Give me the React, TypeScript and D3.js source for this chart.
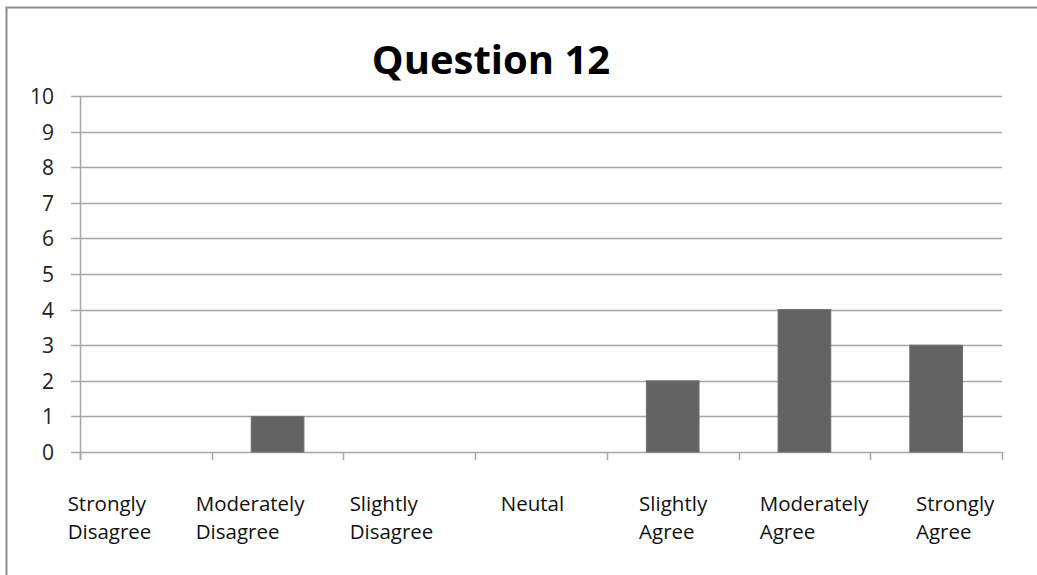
import React, { useEffect, useRef } from "react";
import * as d3 from "d3";

const categories: string[][] = [
  ["Strongly", "Disagree"],
  ["Moderately", "Disagree"],
  ["Slightly", "Disagree"],
  ["Neutal"],
  ["Slightly", "Agree"],
  ["Moderately", "Agree"],
  ["Strongly", "Agree"],
];
const values: number[] = [0, 1, 0, 0, 2, 4, 3];
const yTicks: number[] = [0, 1, 2, 3, 4, 5, 6, 7, 8, 9, 10];
const title = "Question 12";

const W = 1037;
const H = 575;
const FONT = "'Open Sans', 'DejaVu Sans', sans-serif";

export default function App() {
  const ref = useRef<SVGSVGElement | null>(null);

  useEffect(() => {
    const svg = d3.select(ref.current);
    svg.selectAll("*").remove();

    const left = 80;
    const right = 1002;
    const top = 96;
    const bottom = 452;

    const x = d3
      .scaleBand<number>()
      .domain(categories.map((_, i) => i))
      .range([left, right])
      .paddingInner(0.6)
      .paddingOuter(0.3);
    const step = (right - left) / categories.length;
    const y = d3.scaleLinear().domain([0, 10]).range([bottom, top]);

    // Label slots span a wider area than the plot itself
    const labelX = d3
      .scaleBand<number>()
      .domain(categories.map((_, i) => i))
      .range([39, 1026]);

    // Outer chart frame (left and top edges visible)
    svg
      .append("path")
      .attr("d", `M6.5,${H + 2} L6.5,7.5 L${W + 2},7.5`)
      .attr("fill", "none")
      .attr("stroke", "#8c8c8c")
      .attr("stroke-width", 2);

    // Title
    svg
      .append("text")
      .attr("x", 491)
      .attr("y", 74)
      .attr("text-anchor", "middle")
      .attr("font-family", FONT)
      .attr("font-weight", "bold")
      .attr("font-size", 40)
      .attr("fill", "#000")
      .text(title);

    // Horizontal gridlines with tick marks
    svg
      .append("g")
      .selectAll("line")
      .data(yTicks)
      .join("line")
      .attr("x1", left - 9)
      .attr("x2", right)
      .attr("y1", (d) => Math.round(y(d)) + 0.5)
      .attr("y2", (d) => Math.round(y(d)) + 0.5)
      .attr("stroke", "#a6a6a6")
      .attr("stroke-width", 1.5);

    // Y tick labels
    svg
      .append("g")
      .selectAll("text")
      .data(yTicks)
      .join("text")
      .attr("x", 54)
      .attr("y", (d) => y(d) + 8)
      .attr("text-anchor", "end")
      .attr("font-family", FONT)
      .attr("font-size", 21)
      .attr("fill", "#222")
      .text((d) => String(d));

    // Value axis line
    svg
      .append("line")
      .attr("x1", left + 0.5)
      .attr("x2", left + 0.5)
      .attr("y1", top)
      .attr("y2", bottom + 8)
      .attr("stroke", "#a6a6a6")
      .attr("stroke-width", 1.5);

    // Category tick marks between categories
    const tickXs = d3.range(categories.length + 1).map((i) => left + i * step);
    svg
      .append("g")
      .selectAll("line")
      .data(tickXs)
      .join("line")
      .attr("x1", (d) => Math.round(d) + 0.5)
      .attr("x2", (d) => Math.round(d) + 0.5)
      .attr("y1", bottom)
      .attr("y2", bottom + 8)
      .attr("stroke", "#a6a6a6")
      .attr("stroke-width", 1.5);

    // Bars
    svg
      .append("g")
      .selectAll("rect")
      .data(values.map((v, i) => ({ v, i })).filter((d) => d.v > 0))
      .join("rect")
      .attr("x", (d) => x(d.i)!)
      .attr("y", (d) => y(d.v))
      .attr("width", x.bandwidth())
      .attr("height", (d) => bottom - y(d.v))
      .attr("fill", "#636363")
      .attr("stroke", "#6f6f6f")
      .attr("stroke-width", 1);

    // Category labels: lines left-aligned, block centred on its slot
    const labels = svg.append("g");
    categories.forEach((lines, i) => {
      const cx = labelX(i)! + labelX.bandwidth() / 2;
      const g = labels.append("g");
      const t = g
        .append("text")
        .attr("font-family", FONT)
        .attr("font-size", 20.5)
        .attr("fill", "#111");
      lines.forEach((line, k) => {
        t.append("tspan")
          .attr("x", 0)
          .attr("y", 511 + k * 28)
          .text(line);
      });
      const bw = (t.node() as SVGTextElement).getBBox().width;
      g.attr("transform", `translate(${cx - bw / 2},0)`);
    });
  }, []);

  return (
    <svg
      ref={ref}
      width={W}
      height={H}
      style={{ position: "absolute", left: 0, top: 0, background: "#fff" }}
    />
  );
}
